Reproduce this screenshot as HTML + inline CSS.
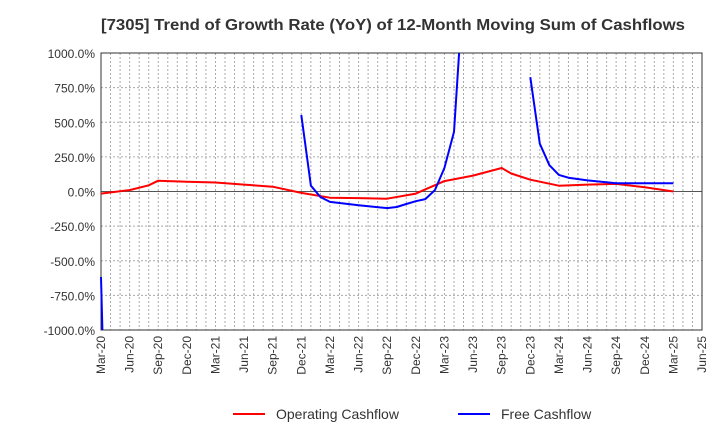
<!DOCTYPE html>
<html><head><meta charset="utf-8"><style>
html,body{margin:0;padding:0;background:#fff;width:720px;height:440px;overflow:hidden;font-family:"Liberation Sans",Arial,sans-serif}
svg{display:block}
svg text{font-family:"Liberation Sans",Arial,sans-serif}
</style></head><body>
<svg id="chart" width="720" height="440" xmlns="http://www.w3.org/2000/svg">
<text x="393" y="30" text-anchor="middle" font-size="16" font-weight="bold" fill="#333" textLength="584" lengthAdjust="spacingAndGlyphs">[7305]  Trend of Growth Rate (YoY) of 12-Month Moving Sum of Cashflows</text>
<g id="grid"></g><g id="axes"></g><g id="series"></g>
<g>
<line x1="233" y1="414" x2="265" y2="414" stroke="#f00" stroke-width="2"/>
<text x="276" y="419" font-size="14" fill="#333">Operating Cashflow</text>
<line x1="458" y1="414" x2="490" y2="414" stroke="#00f" stroke-width="2"/>
<text x="501" y="419" font-size="14" fill="#333">Free Cashflow</text>
</g>
</svg>
<script>
const xTickLabels=["Mar-20","Jun-20","Sep-20","Dec-20","Mar-21","Jun-21","Sep-21","Dec-21","Mar-22","Jun-22","Sep-22","Dec-22","Mar-23","Jun-23","Sep-23","Dec-23","Mar-24","Jun-24","Sep-24","Dec-24","Mar-25","Jun-25"];
const yTicks=[1000,750,500,250,0,-250,-500,-750,-1000];
const opMonths=[0,3,5,6,9,12,15,18,21,24,27,30,33,36,39,42,43,45,48,51,54,57,60];
const opValues=[-15,10,45,78,70,65,50,35,-10,-45,-48,-52,-15,75,115,170,130,85,42,50,55,30,0];
const fcfMonths=[0,1,null,21,22,23,24,27,30,31,32,33,34,35,36,37,38,null,45,46,47,48,49,51,54,57,60];
const fcfValues=[-617,-3200,null,552,42,-40,-75,-100,-120,-112,-90,-70,-55,10,170,430,1500,null,825,345,190,120,100,80,60,60,60];
const L=101,R=702,T=53,B=330,NM=63;
const X=m=>L+(R-L)*m/NM;
const Y=v=>T+(B-T)*(1000-v)/2000;
const NS="http://www.w3.org/2000/svg";
function mk(tag,attrs,parent){const e=document.createElementNS(NS,tag);for(const k in attrs)e.setAttribute(k,attrs[k]);parent.appendChild(e);return e;}
const grid=document.getElementById('grid'),axes=document.getElementById('axes'),series=document.getElementById('series');
for(let m=1;m<NM;m++){const l=mk('line',{x1:X(m),x2:X(m),y1:T,y2:B,stroke:'#aaa','stroke-dasharray':'2,2','stroke-width':1},grid);

}
yTicks.forEach(v=>{const y=Y(v);
const l=mk('line',{x1:L,x2:R,y1:y,y2:y,stroke:v===0?'#555':'#aaa','stroke-dasharray':v===0?'':'2,2','stroke-width':1},grid);


const t=mk('text',{x:95,y:y+5,'text-anchor':'end','font-size':12,fill:'#333'},axes);t.textContent=v.toFixed(1)+'%';

});
xTickLabels.forEach((s,i)=>{const x=X(i*3);
const t=mk('text',{x:0,y:0,'text-anchor':'end','font-size':12,fill:'#333',transform:`translate(${x+4},${B+6}) rotate(-90)`},axes);t.textContent=s;

});
const fr=mk('rect',{x:L,y:T,width:R-L,height:B-T,fill:'none',stroke:'#333','stroke-width':1},axes);


function clipSeg(x1,y1,x2,y2){
  function clampPt(ax,ay,bx,by){
    if(ay>B){const t=(B-by)/(ay-by);return [bx+(ax-bx)*t,B];}
    if(ay<T){const t=(T-by)/(ay-by);return [bx+(ax-bx)*t,T];}
    return [ax,ay];}
  const p1=clampPt(x1,y1,x2,y2),p2=clampPt(x2,y2,x1,y1);
  return [p1,p2];}
function draw(ms,vs,color,name){
  const segs=[];let cur=[];
  ms.forEach((m,i)=>{if(m===null||vs[i]===null){if(cur.length)segs.push(cur);cur=[];return;}cur.push([X(m),Y(vs[i])]);});
  if(cur.length)segs.push(cur);
  let d='';
  segs.forEach(s=>{
    for(let i=0;i<s.length-1;i++){
      const [a,b]=clipSeg(s[i][0],s[i][1],s[i+1][0],s[i+1][1]);
      if(i===0||s[i][1]<T||s[i][1]>B)d+='M'+a[0].toFixed(1)+','+a[1].toFixed(1)+' ';
      d+='L'+b[0].toFixed(1)+','+b[1].toFixed(1)+' ';
    }});
  const p=mk('path',{d:d,fill:'none',stroke:color,'stroke-width':2,'stroke-linejoin':'round'},series);
  
  }
draw(opMonths,opValues,'#f00','operating-cashflow-line');
draw(fcfMonths,fcfValues,'#00f','free-cashflow-line');
</script>
</body></html>
